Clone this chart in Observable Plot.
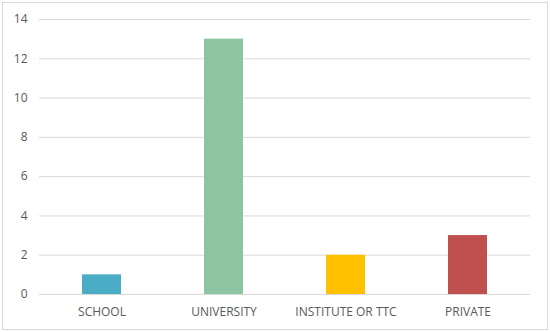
<!DOCTYPE html>
<html>
<head>
<meta charset="utf-8">
<script src="https://cdn.jsdelivr.net/npm/d3@7"></script>
<script src="https://cdn.jsdelivr.net/npm/@observablehq/plot@0.6"></script>
<style>
  html, body { margin: 0; padding: 0; background: #fff; }
  #wrap { position: relative; width: 550px; height: 332px; }
  #border { position: absolute; left: 2px; top: 2px; width: 544px; height: 326px; border: 1px solid #d9d9d9; pointer-events: none; }
</style>
</head>
<body>
<div id="wrap"><div id="border"></div></div>
<script>
const categories = ["SCHOOL", "UNIVERSITY", "INSTITUTE OR TTC", "PRIVATE"];
const values = [1, 13, 2, 3];
const colors = ["#4BACC6", "#8DC5A2", "#FFC000", "#C0504D"];
const yTicks = [0, 2, 4, 6, 8, 10, 12, 14];

const data = categories.map((c, i) => ({category: c, value: values[i], color: colors[i]}));

const chart = Plot.plot({
  width: 550,
  height: 332,
  marginTop: 19,
  marginBottom: 38,
  marginLeft: 39,
  marginRight: 20,
  style: {fontFamily: "'Open Sans', sans-serif", fontSize: "12px", color: "#595959", background: "transparent"},
  x: {domain: categories, paddingInner: 0.68, paddingOuter: 0.34, label: null},
  y: {domain: [0, 14], label: null},
  marks: [
    Plot.gridY(yTicks, {stroke: "#d9d9d9", strokeOpacity: 1}),
    Plot.axisY(yTicks, {tickSize: 0, tickPadding: 12, fill: "#595959", fontSize: 12}),
    Plot.axisX({tickSize: 0, tickPadding: 13, fill: "#595959", fontSize: 12}),
    Plot.barY(data, {x: "category", y: "value", fill: "color"})
  ]
});
document.getElementById("wrap").prepend(chart);
</script>
</body>
</html>
